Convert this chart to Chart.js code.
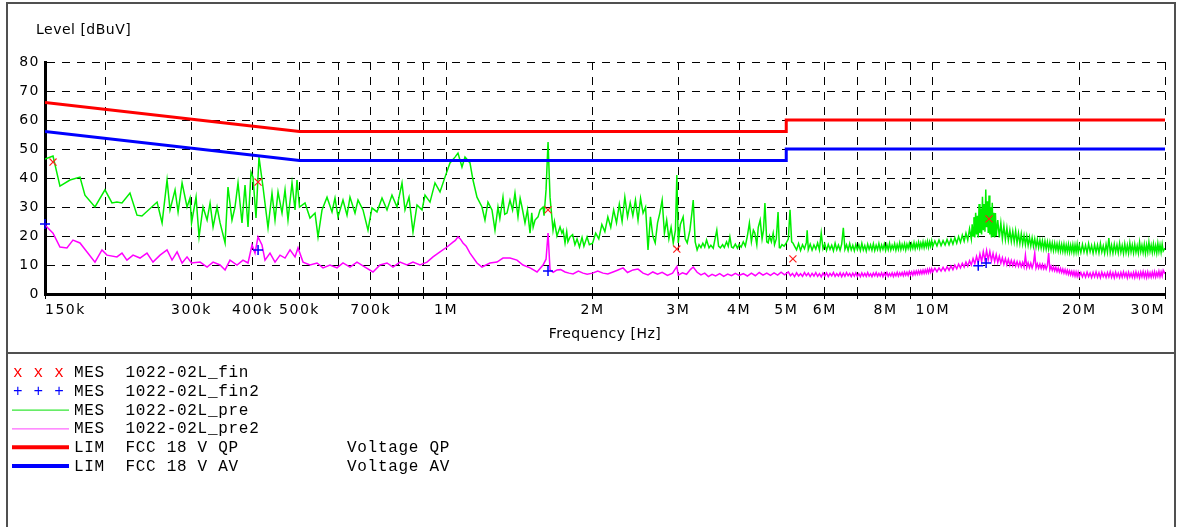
<!DOCTYPE html>
<html><head><meta charset="utf-8">
<script src="https://cdn.jsdelivr.net/npm/chart.js@4/dist/chart.umd.min.js"></script>
<style>html,body{margin:0;padding:0;background:#fff;}canvas{display:block;}</style>
</head><body>
<canvas id="c" width="1178" height="527"></canvas>
<script>
// ---------- axis ticks ----------
const X_TICK_VALUES = [0.15,0.2,0.3,0.4,0.5,0.6,0.7,0.8,0.9,1,2,3,4,5,6,7,8,9,10,20,30];
const X_TICK_LABELS = ['150k','','300k','400k','500k','','700k','','','1M','2M','3M','4M','5M','6M','','8M','','10M','20M','30M'];
const Y_MIN = 0, Y_MAX = 80, Y_STEP = 10;

// ---------- MES 1022-02L_pre (green), frequency in MHz / level in dBuV ----------
const PRE_FREQ = [
0.150,0.1558,0.161,0.1688,0.177,0.1812,0.190,0.1992,0.2059,0.2108,0.2159,0.2242,0.2318,0.2373,0.2549,0.261,0.2672,0.271,0.2775,0.2815,
0.2869,0.2937,0.2979,0.300,0.3065,0.3109,0.3168,0.3229,0.3275,0.3322,0.3385,0.3434,0.3516,0.3565,0.3633,0.3685,0.3738,0.3809,0.3864,0.3919,
0.3975,0.4013,0.407,0.4128,0.4207,0.4308,0.439,0.4453,0.4517,0.4603,0.4669,0.4735,0.4826,0.4895,0.4941,0.500,0.5132,0.5255,0.5381,0.5458,
0.5562,0.5695,0.5831,0.5914,0.5999,0.6142,0.626,0.6349,0.6501,0.6594,0.6752,0.6913,0.7045,0.7214,0.7387,0.7564,0.7744,0.793,0.812,0.8236,
0.8393,0.8553,0.8717,0.8926,0.9053,0.927,0.9491,0.9719,0.9951,1.0189,1.0433,1.0582,1.0784,1.0938,1.12,1.136,1.1577,1.1854,1.2023,1.2195,
1.2428,1.2606,1.2786,1.29,1.3092,1.32,1.3342,1.3533,1.37,1.3857,1.4055,1.42,1.4324,1.4529,1.47,1.488,1.50,1.51,1.5236,1.5454,
1.56,1.5824,1.59,1.605,1.6203,1.6356,1.659,1.67,1.69,1.7149,1.73,1.74,1.7559,1.77,1.78,1.7979,1.82,1.84,1.8585,1.88,
1.903,1.92,1.9485,1.97,2.00,2.03,2.06,2.09,2.12,2.15,2.18,2.21,2.24,2.27,2.30,2.33,2.36,2.39,2.42,2.45,
2.48,2.51,2.54,2.57,2.60,2.63,2.66,2.69,2.72,2.75,2.78,2.81,2.84,2.87,2.90,2.93,2.96,2.98,3.00,3.03,
3.07,3.10,3.13,3.17,3.20,3.22,3.25,3.28,3.31,3.34,3.37,3.40,3.43,3.47,3.50,3.54,3.57,3.60,3.63,3.66,
3.70,3.73,3.77,3.80,3.83,3.86,3.89,3.93,3.97,4.00,4.04,4.08,4.12,4.16,4.20,4.24,4.28,4.31,4.35,4.38,
4.42,4.46,4.49,4.52,4.56,4.59,4.62,4.66,4.70,4.73,4.77,4.81,4.84,4.86,4.90,4.95,5.00,5.05,5.09,5.13,
5.16,
5.20,5.25,5.30,5.35,5.40,5.45,5.50,5.52,5.55,5.60,5.65,5.70,5.75,5.80,5.85,5.90,5.95,6.00,6.05,6.10,
6.15,6.20,6.25,6.30,6.35,6.40,6.45,6.50,6.55,6.60,6.65,6.70,6.75,6.80,6.85,6.90,6.95,7.00,7.05,7.10,
7.15,7.20,7.25,7.30,7.35,7.40,7.45,7.50,7.55,7.60,7.65,7.70,7.75,7.80,7.85,7.90,7.95,8.00,8.05,8.10,
8.15,8.20,8.25,8.30,8.35,8.40,8.45,8.50,8.55,8.60,8.65,8.70,8.75,8.80,8.85,8.90,8.95,9.00,9.05,9.10,
9.15,9.20,9.25,9.30,9.35,9.40,9.45,9.50,9.55,9.60,9.65,9.70,9.75,9.80,9.85,9.90,9.95,10.0,
10.1,10.2,10.3,10.4,10.5,10.6,10.7,10.8,10.9,11.0,11.1,11.2,11.3,11.4,11.5,11.6,11.7,11.8,11.9,12.0,
12.05,12.1,12.15,12.2,12.25,12.3,12.35,12.4,12.45,12.5,12.55,12.6,12.65,12.7,12.75,12.8,12.85,12.9,12.95,13.0,
13.05,13.1,13.15,13.2,13.25,13.3,13.35,13.4,13.45,13.5,13.6,13.7,13.8,13.9,14.0,14.1,14.2,14.3,14.4,14.5,
14.6,14.7,14.8,14.9,15.0,15.1,15.2,15.3,15.4,15.5,15.6,15.7,15.8,15.9,16.0,16.1,16.2,16.3,16.4,16.5,
16.6,16.7,16.8,16.9,17.0,17.1,17.2,17.3,17.4,17.5,17.6,17.7,17.8,17.9,18.0,18.1,18.2,18.3,18.4,18.5,
18.6,18.7,18.8,18.9,19.0,19.1,19.2,19.3,19.4,19.5,19.6,19.7,19.8,19.9,20.0,
20.15,20.3,20.45,20.6,20.75,20.9,21.05,21.2,21.35,21.5,21.65,21.8,21.95,22.1,22.25,22.4,22.55,22.7,22.85,23.0,
23.15,23.3,23.45,23.6,23.75,23.9,24.05,24.2,24.35,24.5,24.65,24.8,24.95,25.1,25.25,25.4,25.55,25.7,25.85,26.0,
26.15,26.3,26.45,26.6,26.75,26.9,27.05,27.2,27.35,27.5,27.65,27.8,27.95,28.1,28.25,28.4,28.55,28.7,28.85,29.0,
29.15,29.3,29.45,29.6,29.75,30.0];
const PRE_LEVEL = [
46.5,47.6,37.2,39.3,40.3,34.1,30,35.9,31.4,31.7,31.4,34.8,27.2,26.9,31.7,24.5,39.3,29,35.9,28.3,
38.3,30,33.1,24.5,33.4,19.7,30,25.5,31.4,23.1,30,24.5,17.6,36.9,25.5,30,38.3,24.5,37.6,23.1,
42,40.3,26.2,47.2,36.9,22.8,34.8,25.5,35.2,27.9,35.9,25.5,38.3,29,39.3,30,31.4,26.2,27.9,19.7,
29,33.4,28.3,33.1,26.6,32.4,27.2,33.4,27.9,32.4,29,22,29.7,28.3,33.1,29,34.1,30,38.3,29,
33.4,21.4,30.7,29,34.1,31.7,38.3,35.2,40.3,45.2,47.2,48.6,43.8,47.2,45.2,39.3,33.4,30,25.5,31.7,
29,22,30,26,33.4,27.5,27.9,32.4,29,34.8,26.6,33,30,24.5,29,21,28,23,25.5,26.6,
29,30,27,35.9,52.4,33.4,22,25,20,23.1,21,22,17.6,21.5,18,19.7,20.5,17,19,16.2,
19.5,16.5,19.7,17,17.5,21,19,24,21.5,26.6,23,29,24.5,31,25,33.4,26.6,31.5,27,32.4,
25.5,33,27.9,30,15.2,26.6,20,17.6,24.5,28,32.4,21,25.5,19,23,17.6,22,41,17.6,24,
26.6,19,17.6,22,28,32.4,18,15.2,17,16,17.5,16.2,18.6,15.9,16.8,15.8,19,22,16.5,15.9,
17,16,18,16.5,19.7,16.2,15.9,17.2,15.8,17,16.2,18,16.5,20,24.5,18,22,21,17,23,
25.5,19,22,31.4,18,17.6,20,18,21,17,19,28.3,16,15.9,17,16.5,17.6,19,29,18,
17.6,
16.5,15.2,17.4,15.0,17.0,15.6,17.8,22,15.3,17.2,15.1,16.9,15.5,17.6,15.2,21,15.6,17.3,15.0,17.1,
15.4,16.8,14.9,17.5,15.3,16.9,15.1,17.2,22.8,15.4,17.0,15.0,17.4,15.2,16.8,14.9,17.1,15.3,16.9,15.0,
17.5,15.2,16.7,14.8,17.2,15.4,16.9,15.1,17.3,15.0,16.8,15.3,17.4,15.1,16.9,15.4,17.2,15.0,17.0,15.3,
17.5,15.2,16.8,15.5,17.3,15.1,17.0,15.4,17.6,15.3,17.1,15.6,17.4,15.2,17.2,15.7,17.5,15.5,17.3,15.8,
17.7,15.6,17.4,16.0,17.9,15.8,17.6,16.1,18.0,16.0,17.8,16.3,18.2,16.1,18.0,16.5,18.4,16.4,
18.3,16.6,18.6,16.7,18.4,16.9,18.8,17.0,19.0,17.2,19.4,17.5,19.8,17.8,20.3,18.2,21.0,18.6,22.5,19.0,
24,20.0,26.5,19.5,28,20.5,27,19.5,31,21,29.5,20.5,33.5,22,31,21.5,36,23,32,21,
34,20.5,30,19.5,31.5,20,28,19.5,27.9,20,25.5,19.5,24.5,19,23.5,18.8,22.8,18.5,22,18.2,
21.6,18.0,21.8,17.6,21.0,17.4,20.8,17.2,20.2,17.0,20.0,16.8,19.6,16.6,19.4,16.4,19.0,16.2,18.8,16.0,
18.6,15.8,18.4,15.6,18.2,15.5,18.0,15.4,17.8,15.2,17.6,15.0,17.5,15.1,17.3,14.9,17.4,14.8,17.1,14.7,
17.2,14.5,16.9,14.6,17.1,14.4,16.8,14.6,17.0,14.3,16.9,14.5,17.2,14.4,16.8,
14.3,17.1,14.5,16.8,14.2,17.3,14.6,16.7,14.1,17.0,14.4,16.9,14.2,17.4,14.5,16.6,14.0,17.1,14.4,19.3,
14.3,16.8,14.1,17.2,14.5,16.9,14.2,17.5,14.4,16.7,14.0,17.3,14.3,16.8,14.1,17.6,14.5,16.9,14.2,17.2,
14.4,16.6,14.1,17.8,14.6,16.8,14.3,17.1,14.0,16.9,14.4,17.9,14.7,16.8,14.3,17.2,14.5,16.7,14.2,17.4,
14.6,16.9,14.4,17.2,14.8,15.8];

// ---------- MES 1022-02L_pre2 (magenta) ----------
const PRE2_FREQ = [
0.150,0.1558,0.161,0.1664,0.1712,0.177,0.183,0.190,0.1964,0.2011,0.2108,0.2159,0.221,0.2275,0.2351,0.243,0.25,0.2585,0.2672,0.2736,
0.2802,0.2869,0.2937,0.300,0.3124,0.3229,0.3322,0.3434,0.3516,0.3599,0.372,0.3827,0.3919,0.3994,0.4051,0.4109,0.4187,0.4247,0.4349,0.4453,
0.456,0.4669,0.4781,0.4895,0.4965,0.5084,0.5255,0.5432,0.5588,0.5776,0.5971,0.6142,0.6349,0.6563,0.6816,0.7079,0.7317,0.7564,0.7781,0.8043,
0.8314,0.8553,0.8841,0.914,0.9403,0.9719,1.0046,1.0334,1.045,1.0582,1.07,1.0835,1.10,1.12,1.1577,1.1854,1.2311,1.2726,1.3092,1.3533,
1.3989,1.4392,1.488,1.5381,1.5824,1.605,1.6203,1.6356,1.66,1.6908,1.72,1.7559,1.79,1.8236,1.87,1.9121,1.95,2.0,2.05,2.1018,
2.15,2.2035,2.25,2.3102,2.36,2.4221,2.48,2.5395,2.6,2.66,2.72,2.78,2.85,2.92,2.98,3.0,3.06,3.12,3.18,3.22,
3.28,3.34,3.40,3.46,3.52,3.58,3.65,3.72,3.79,3.86,3.93,4.0,4.08,4.16,4.24,4.32,4.40,4.48,4.56,4.64,
4.72,4.80,4.88,4.96,
5.05,5.10,5.15,5.20,5.25,5.30,5.35,5.40,5.45,5.50,5.55,5.60,5.65,5.70,5.75,5.80,5.85,5.90,5.95,6.00,
6.05,6.10,6.15,6.20,6.25,6.30,6.35,6.40,6.45,6.50,6.55,6.60,6.65,6.70,6.75,6.80,6.85,6.90,6.95,7.00,
7.05,7.10,7.15,7.20,7.25,7.30,7.35,7.40,7.45,7.50,7.55,7.60,7.65,7.70,7.75,7.80,7.85,7.90,7.95,8.00,
8.05,8.10,8.15,8.20,8.25,8.30,8.35,8.40,8.45,8.50,8.55,8.60,8.65,8.70,8.75,8.80,8.85,8.90,8.95,9.00,
9.05,9.10,9.15,9.20,9.25,9.30,9.35,9.40,9.45,9.50,9.55,9.60,9.65,9.70,9.75,9.80,9.85,9.90,9.95,10.0,
10.1,10.2,10.3,10.4,10.5,10.6,10.7,10.8,10.9,11.0,11.1,11.2,11.3,11.4,11.5,11.6,11.7,11.8,11.9,12.0,
12.1,12.2,12.3,12.4,12.5,12.6,12.7,12.8,12.9,13.0,13.1,13.2,13.3,13.4,13.5,13.6,13.7,13.8,13.9,14.0,
14.1,14.2,14.3,14.4,14.5,14.6,14.7,14.8,14.9,15.0,15.1,15.2,15.3,15.4,15.5,15.6,15.7,15.8,15.9,16.0,
16.1,16.2,16.3,16.4,16.5,16.6,16.7,16.8,16.9,17.0,17.1,17.2,17.3,17.4,17.5,17.6,17.7,17.8,17.9,18.0,
18.1,18.2,18.3,18.4,18.5,18.6,18.7,18.8,18.9,19.0,19.1,19.2,19.3,19.4,19.5,19.6,19.7,19.8,19.9,20.0,
20.15,20.3,20.45,20.6,20.75,20.9,21.05,21.2,21.35,21.5,21.65,21.8,21.95,22.1,22.25,22.4,22.55,22.7,22.85,23.0,
23.15,23.3,23.45,23.6,23.75,23.9,24.05,24.2,24.35,24.5,24.65,24.8,24.95,25.1,25.25,25.4,25.55,25.7,25.85,26.0,
26.15,26.3,26.45,26.6,26.75,26.9,27.05,27.2,27.35,27.5,27.65,27.8,27.95,28.1,28.25,28.4,28.55,28.7,28.85,29.0,
29.15,29.3,29.45,29.6,29.75,30.0];
const PRE2_LEVEL = [
23.8,21,16.2,15.9,18.6,17.6,14.5,11,15.2,13.4,12.8,14.1,11.7,13.4,12.4,14.1,11,13.4,15.2,11.7,
14.5,10.7,12.8,10.7,11,9.3,11,10,8.3,11.7,10,11.7,10.7,16.9,14.1,19.7,16.9,11.7,14.1,11,
13.4,12.4,15.2,12.8,15.9,11,10,10.7,9,10,9,10.7,9.3,11,9.3,7.6,10,10.7,9.3,11,
10,11,10,11,12.8,14.5,16.2,17.9,18.5,19.7,19,17.6,16.5,14.1,10.7,9.3,10.7,11,12.4,12.4,
11.7,10,9,7.6,10,12,21,8.3,7.5,8.3,8.4,7.6,7.2,6.9,7.9,7.2,6.8,7.2,7.9,7.2,
6.9,7.6,8.2,9,7.4,8.3,8.6,7.2,6.6,7.6,6.8,7.5,6.4,7.2,9.5,6.5,7.3,6.8,8.5,9.3,
7.5,6.6,7.2,6.0,6.8,6.2,7,6.1,6.9,6.3,7.1,6.4,7,6.2,7.2,6.3,7.4,6.5,7.2,6.4,
7.3,6.5,7.5,6.6,
7.6,6.3,7.1,6.0,7.3,6.2,7.0,6.1,7.4,6.3,7.2,6.0,7.1,6.2,7.4,6.1,7.0,5.9,7.2,6.2,
7.3,6.0,7.1,6.3,7.4,6.1,7.0,6.2,7.3,6.0,7.2,6.1,7.4,6.3,7.1,6.0,7.2,6.2,7.3,6.1,
7.0,6.0,7.3,6.2,7.1,6.1,7.4,6.2,7.0,6.0,7.2,6.3,7.4,6.1,7.1,6.2,7.3,6.0,7.2,6.3,
7.4,6.1,7.1,6.2,7.3,6.0,7.2,6.3,7.5,6.2,7.3,6.4,7.4,6.3,7.6,6.5,7.5,6.4,7.7,6.6,
7.6,6.5,7.8,6.7,7.9,6.8,8.0,6.9,8.1,7.0,8.2,7.1,8.3,7.2,8.5,7.3,8.6,7.5,8.7,7.6,
8.9,7.7,9.0,7.9,9.2,8.0,9.4,8.2,9.7,8.4,10.0,8.7,10.3,9.0,10.6,9.3,11.0,9.6,11.5,10.0,
12.2,10.4,13.0,10.8,13.8,11.2,14.6,11.6,15.0,11.8,14.6,11.5,14.0,11.2,13.6,10.9,13.0,10.6,12.5,10.3,
12.2,10.1,11.9,9.9,11.6,9.8,11.4,9.6,11.2,9.5,11.0,9.4,10.9,9.3,13.4,9.2,10.8,9.1,10.6,9.0,
10.5,14.1,9.0,10.4,8.9,10.3,8.8,10.2,8.7,10.0,8.6,9.8,14.1,8.4,9.6,8.2,9.4,8.0,9.2,7.8,
9.0,7.6,8.8,7.4,8.6,7.2,8.4,7.0,8.2,6.8,8.0,6.6,7.8,6.4,7.7,6.2,7.6,6.1,7.5,6.0,
7.4,5.9,7.3,5.8,7.5,6.0,7.2,5.7,7.4,5.9,7.6,5.8,7.3,5.6,7.5,6.0,7.2,5.7,7.4,5.9,
7.6,5.8,7.3,5.6,7.5,5.9,7.2,5.7,7.4,5.8,7.6,6.0,7.3,5.6,7.5,5.9,7.2,5.8,7.4,5.7,
7.6,5.9,7.3,5.6,7.5,6.0,7.7,5.8,7.4,5.7,7.6,5.9,7.3,5.8,7.5,6.0,7.7,5.9,7.4,6.1,
7.8,6.0,7.6,6.2,8.2,7.0];

// ---------- final measurements ----------
const FIN_FREQ  = [0.1558, 0.411, 1.62, 2.98, 5.16, 13.05];   // QP (red x)
const FIN_LEVEL = [45.5, 38.6, 29.0, 15.5, 12.1, 25.9];
const FIN2_FREQ  = [0.150, 0.411, 1.62, 12.4, 12.87];         // AV (blue +)
const FIN2_LEVEL = [24.1, 15.2, 7.9, 9.7, 10.7];

// ---------- limits FCC 18 ----------
const LIM_QP_FREQ  = [0.15, 0.5, 5, 5, 30];
const LIM_QP_LEVEL = [66, 56, 56, 60, 60];
const LIM_AV_FREQ  = [0.15, 0.5, 5, 5, 30];
const LIM_AV_LEVEL = [56, 46, 46, 50, 50];

// ---------- legend rows ----------
const LEGEND_ROWS = [
  {sym:'x x x', symColor:'#ff0000', text:'MES  1022-02L_fin', right:''},
  {sym:'+ + +', symColor:'#0000ff', text:'MES  1022-02L_fin2', right:''},
  {line:'#00e000', lw:1, text:'MES  1022-02L_pre', right:''},
  {line:'#ff44ff', lw:1, text:'MES  1022-02L_pre2', right:''},
  {line:'#ff0000', lw:4, text:'LIM  FCC 18 V QP', right:'Voltage QP'},
  {line:'#0000ff', lw:4, text:'LIM  FCC 18 V AV', right:'Voltage AV'}
];

const pts = (fs, ls) => fs.map((f, i) => ({x: f, y: ls[i]}));

const decor = {
  id: 'decor',
  beforeDraw(chart) {
    const ctx = chart.ctx;
    ctx.save(); ctx.fillStyle = '#fff'; ctx.fillRect(0, 0, chart.width, chart.height); ctx.restore();
    ctx.letterSpacing = '1.5px';
    const items = chart.scales.x.getLabelItems();
    if (items.length) {
      items[0].options.textAlign = 'left';
      items[items.length - 1].options.textAlign = 'right';
    }
  },
  afterDraw(chart) {
    const ctx = chart.ctx;
    const area = chart.chartArea;
    ctx.save();
    ctx.letterSpacing = '0.5px';
    ctx.fillStyle = '#000';
    ctx.font = '14px "DejaVu Sans"';
    ctx.textBaseline = 'alphabetic';
    ctx.textAlign = 'left';
    ctx.fillText('Level [dBuV]', 36, 34);
    ctx.textAlign = 'center';
    ctx.textBaseline = 'middle';
    ctx.fillText('Frequency [Hz]', (area.left + area.right) / 2, 334);
    ctx.strokeStyle = '#505050';
    ctx.lineWidth = 2;
    ctx.strokeRect(7, 3, 1168, 530);
    ctx.beginPath(); ctx.moveTo(7, 353); ctx.lineTo(1175, 353); ctx.stroke();
    ctx.letterSpacing = '0.7px';
    ctx.font = '16px "Liberation Mono"';
    ctx.textBaseline = 'alphabetic';
    ctx.textAlign = 'left';
    const base0 = 377, pitch = 18.8;
    LEGEND_ROWS.forEach((r, i) => {
      const by = base0 + i * pitch;
      if (r.sym) {
        ctx.fillStyle = r.symColor;
        ctx.fillText(r.sym, 13, by);
      } else {
        ctx.strokeStyle = r.line; ctx.lineWidth = r.lw;
        const ly = by - 5 + (r.lw === 1 ? 0.5 : 0);
        ctx.beginPath(); ctx.moveTo(12, ly); ctx.lineTo(69, ly); ctx.stroke();
      }
      ctx.fillStyle = '#000';
      ctx.fillText(r.text, 74, by);
      if (r.right) ctx.fillText(r.right, 347, by);
    });
    ctx.restore();
  }
};

const tickFont = {family: 'DejaVu Sans', size: 14};

new Chart(document.getElementById('c'), {
  type: 'scatter',
  data: {
    datasets: [
      {label: 'MES 1022-02L_fin', data: pts(FIN_FREQ, FIN_LEVEL), pointStyle: 'crossRot', pointRadius: 5,
       borderColor: '#ff2020', backgroundColor: '#ff2020', pointBorderWidth: 1.2, showLine: false, order: 0, clip: false},
      {label: 'MES 1022-02L_fin2', data: pts(FIN2_FREQ, FIN2_LEVEL), pointStyle: 'cross', pointRadius: 5,
       borderColor: '#0000ff', backgroundColor: '#0000ff', pointBorderWidth: 1.5, showLine: false, order: 0, clip: false},
      {label: 'LIM FCC 18 V QP', data: pts(LIM_QP_FREQ, LIM_QP_LEVEL), showLine: true, borderColor: '#ff0000',
       borderWidth: 3, pointRadius: 0, tension: 0, order: 1},
      {label: 'LIM FCC 18 V AV', data: pts(LIM_AV_FREQ, LIM_AV_LEVEL), showLine: true, borderColor: '#0000ff',
       borderWidth: 3, pointRadius: 0, tension: 0, order: 1},
      {label: 'MES 1022-02L_pre', data: pts(PRE_FREQ, PRE_LEVEL), showLine: true, borderColor: '#00ee00',
       borderWidth: 1.5, pointRadius: 0, tension: 0, order: 2},
      {label: 'MES 1022-02L_pre2', data: pts(PRE2_FREQ, PRE2_LEVEL), showLine: true, borderColor: '#ff00ff',
       borderWidth: 1.5, pointRadius: 0, tension: 0, order: 3}
    ]
  },
  options: {
    responsive: false,
    animation: false,
    events: [],
    layout: {padding: {left: 0, top: 62, right: 13, bottom: 183}},
    plugins: {legend: {display: false}, tooltip: {enabled: false}, title: {display: false}},
    scales: {
      x: {
        type: 'logarithmic', min: 0.15, max: 30,
        afterBuildTicks: s => { s.ticks = X_TICK_VALUES.map(v => ({value: v})); },
        afterFit: s => { s.height = 50; s.paddingLeft = 0; s.paddingRight = 0; },
        ticks: {autoSkip: false, maxRotation: 0, minRotation: 0, color: '#000', font: tickFont, padding: 3,
                callback: (v, i) => X_TICK_LABELS[i]},
        grid: {color: '#000', lineWidth: 1, drawTicks: true, tickLength: 5, tickColor: '#000'},
        border: {display: true, color: '#000', width: 3, dash: [8, 7]}
      },
      y: {
        min: Y_MIN, max: Y_MAX,
        afterFit: s => { s.width = 45; },
        ticks: {stepSize: Y_STEP, color: '#000', font: tickFont, padding: 5},
        grid: {color: '#000', lineWidth: 1, drawTicks: false},
        border: {display: true, color: '#000', width: 3, dash: [8, 7]}
      }
    }
  },
  plugins: [decor]
});
</script>
</body></html>
